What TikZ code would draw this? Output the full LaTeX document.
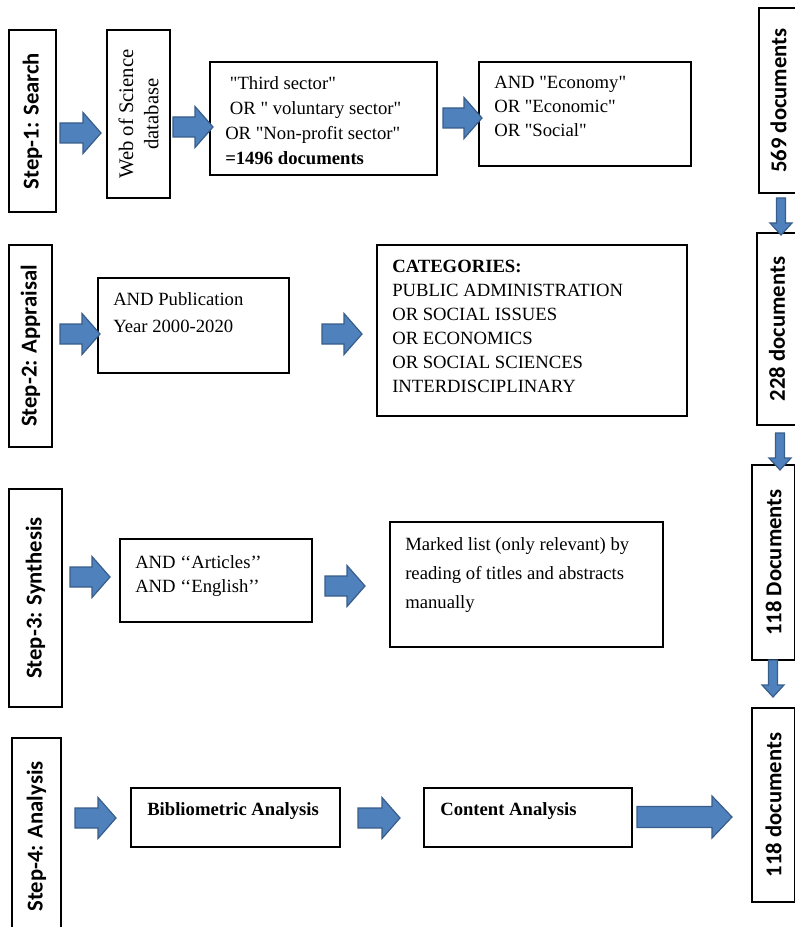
\documentclass[tikz,border=0pt]{standalone}
\usepackage{fontspec}
\setmainfont{Liberation Serif}[Ligatures=TeXOff]
\newfontfamily\calibri{Carlito}
\usetikzlibrary{calc}

% block arrow: tail, tip, shaft half width, head half width, head length
\newcommand{\blockarrow}[5]{%
  \coordinate (bahead) at ($(#2)!#5!(#1)$);
  \draw[blockarrow] ($(#1)!#3!90:(#2)$) -- ($(bahead)!#3!90:(#2)$) -- ($(bahead)!#4!90:(#2)$) -- (#2)
    -- ($(bahead)!#4!-90:(#2)$) -- ($(bahead)!#3!-90:(#2)$) -- ($(#1)!#3!-90:(#2)$) -- cycle ;}

\begin{document}
\begin{tikzpicture}[x=0.75pt,y=0.75pt,yscale=-1,xscale=1,
    box/.style={draw, line width=0.8pt, inner sep=0pt},
    stepbox/.style={box, rotate=90, font=\calibri\bfseries\fontsize{17}{20}\selectfont},
    countbox/.style={box, rotate=90, font=\calibri\bfseries\fontsize{17}{20}\selectfont},
    boxtext/.style={anchor=north west, inner sep=0pt, align=left, font=\fontsize{14}{#1}\selectfont},
    boxtext/.default=18,
    blockarrow/.style={fill={rgb, 255:red, 79; green, 129; blue, 189}, draw={rgb, 255:red, 56; green, 93; blue, 138}, line width=0.9pt, line join=miter}]
        \useasboundingbox (0,0) rectangle (795,927);

        %Shape: Rectangle (steps)
        \node[stepbox, minimum width=136.5pt, minimum height=35.25pt] (step1) at (32.5,121) {Step-1: Search};
        \node[stepbox, minimum width=151.5pt, minimum height=32.25pt] (step2) at (30.5,346) {Step-2: Appraisal};
        \node[stepbox, minimum width=163.5pt, minimum height=39.75pt] (step3) at (35.5,598) {Step-3: Synthesis};
        \node[stepbox, minimum width=147.75pt, minimum height=36.75pt] (step4) at (36.5,836.5) {Step-4: Analysis};

        %Shape: Rectangle (document counts)
        \node[countbox, minimum width=138.75pt, minimum height=29.25pt] (count1) at (778.5,100.5) {569 documents};
        \node[countbox, minimum width=144pt, minimum height=30pt] (count2) at (777,329) {228 documents};
        \node[countbox, minimum width=146.25pt, minimum height=32.25pt] (count3) at (773.5,562.5) {118 Documents};
        \node[countbox, minimum width=145.5pt, minimum height=32.25pt] (count4) at (773.5,805) {118 documents};

        %Shape: Rectangle (database)
        \node[box, rotate=90, minimum width=126pt, minimum height=47.25pt, align=center, font=\fontsize{15.5}{19}\selectfont] (wos) at (138.5,114) {Web of Science\\database};

        %Shape: Rectangle (query boxes)
        \node[box, minimum width=170.25pt, minimum height=84.75pt] (query) at (323.5,118.5) {};
        \node[box, minimum width=159pt, minimum height=78pt] (topic) at (585,114) {};
        \node[box, minimum width=143.25pt, minimum height=71.25pt] (years) at (193.5,325.5) {};
        \node[box, minimum width=232.5pt, minimum height=128.25pt] (categories) at (532,330.5) {};
        \node[box, minimum width=144pt, minimum height=62.25pt] (articles) at (216,580.5) {};
        \node[box, minimum width=204.75pt, minimum height=93.75pt] (marked) at (526.5,584.5) {};
        \node[box, minimum width=156.75pt, minimum height=44.25pt] (biblio) at (235.5,817.5) {};
        \node[box, minimum width=156pt, minimum height=44.25pt] (content) at (528,817.5) {};

        % Text Node
        \node[boxtext=18.75] (querytext) at (225,76) {\ "Third sector"\\\ OR " voluntary sector"\\OR "Non-profit sector"\\\textbf{=1496 documents}};
        % Text Node
        \node[boxtext] (topictext) at (494,76) {AND "Economy"\\OR "Economic"\\OR "Social"};
        % Text Node
        \node[boxtext=20.25] (yearstext) at (113,292) {AND Publication\\Year 2000-2020};
        % Text Node
        \node[boxtext] (categoriestext) at (392,260) {\textbf{CATEGORIES:}\\PUBLIC ADMINISTRATION\\OR SOCIAL ISSUES\\OR ECONOMICS\\OR SOCIAL SCIENCES\\INTERDISCIPLINARY};
        % Text Node
        \node[boxtext] (articlestext) at (135,555) {AND ‘‘Articles’’\\AND ‘‘English’’};
        % Text Node
        \node[boxtext=21.75] (markedtext) at (405,537) {Marked list (only relevant) by\\reading of titles and abstracts\\manually};
        % Text Node
        \node[boxtext] (bibliotext) at (147,802) {\textbf{Bibliometric Analysis}};
        % Text Node
        \node[boxtext] (contenttext) at (440,802) {\textbf{Content Analysis}};

        %Right Arrow
        \coordinate (a1t) at (60,133); \coordinate (a1h) at (101,133);
        \coordinate (a2t) at (173,127); \coordinate (a2h) at (213,127);
        \coordinate (a3t) at (443,118); \coordinate (a3h) at (482,118);
        \coordinate (a4t) at (60,334); \coordinate (a4h) at (100,334);
        \coordinate (a5t) at (322,334); \coordinate (a5h) at (362,334);
        \coordinate (a6t) at (70,577); \coordinate (a6h) at (110,577);
        \coordinate (a7t) at (325,586); \coordinate (a7h) at (365,586);
        \coordinate (a8t) at (75,818); \coordinate (a8h) at (116,818);
        \coordinate (a9t) at (358,818); \coordinate (a9h) at (400,818);
        \foreach \i in {1,...,9}
            {\blockarrow{a\i t}{a\i h}{7.5pt}{15.4pt}{13.5pt}}
        \coordinate (a10t) at (637,817); \coordinate (a10h) at (732,817);
        \blockarrow{a10t}{a10h}{7.9pt}{15.75pt}{15pt}

        %Down Arrow
        \coordinate (d1t) at (781,198); \coordinate (d1h) at (781,235);
        \coordinate (d2t) at (780,433); \coordinate (d2h) at (780,470);
        \coordinate (d3t) at (773,660); \coordinate (d3h) at (773,697);
        \foreach \i in {1,2,3}
            {\blockarrow{d\i t}{d\i h}{3.4pt}{8.25pt}{9pt}}

    \end{tikzpicture}
\end{document}
